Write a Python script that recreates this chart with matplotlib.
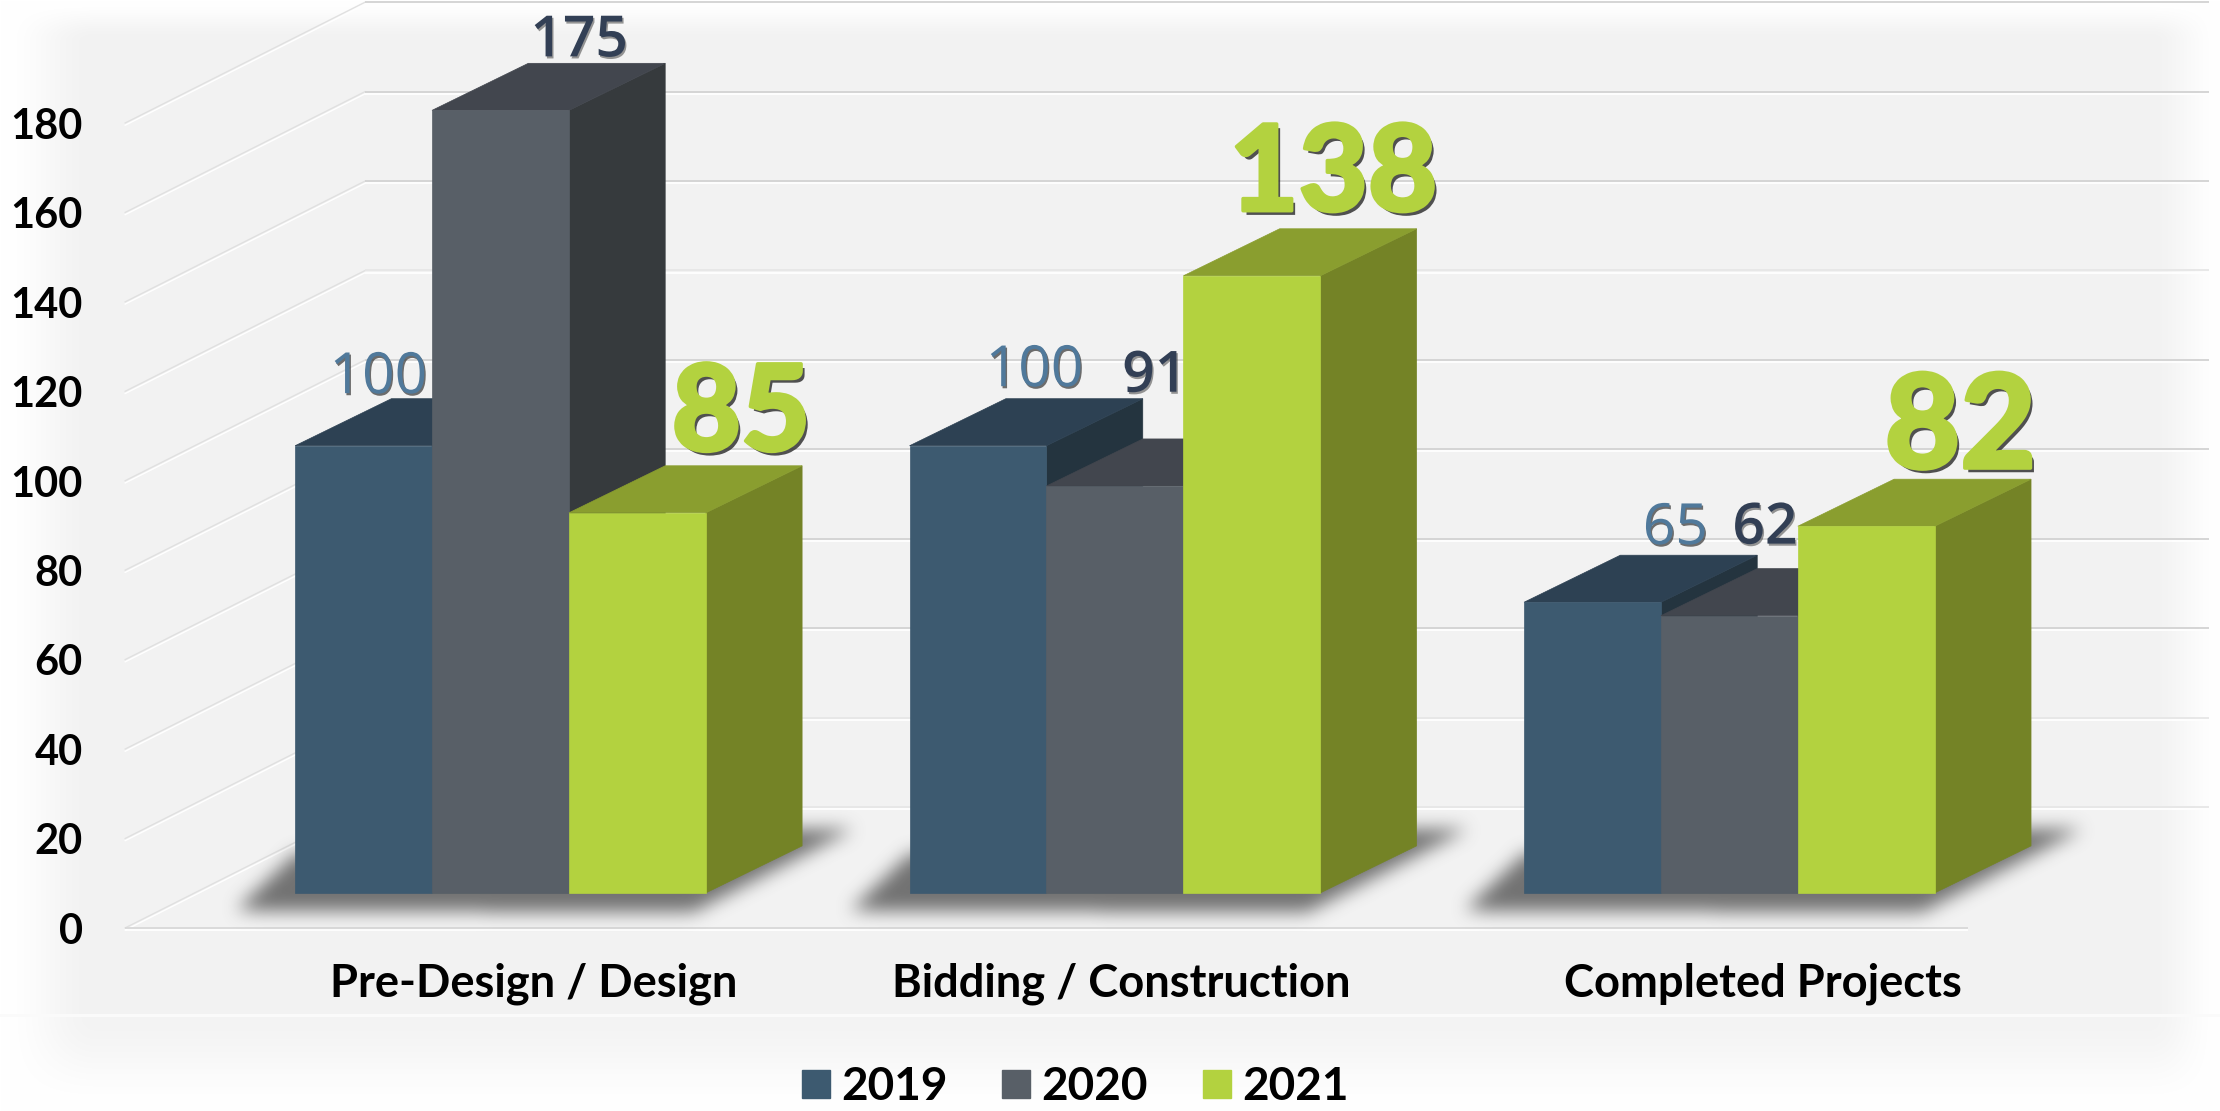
import matplotlib
matplotlib.use("Agg")
import matplotlib.pyplot as plt
import matplotlib.patheffects as pe
from matplotlib.lines import Line2D
from matplotlib.path import Path
import numpy as np

# data
categories = ["Pre-Design / Design", "Bidding / Construction", "Completed Projects"]
years = ["2019", "2020", "2021"]
vals_2019 = [100, 100, 65]
vals_2020 = [175, 91, 62]
vals_2021 = [85, 138, 82]
y_ticks = [0, 20, 40, 60, 80, 100, 120, 140, 160, 180]

W, H = 2220, 1111
FRONT = {"2019": "#3d5a70", "2020": "#585f67", "2021": "#b3d23f"}
TOP = {"2019": "#2d4153", "2020": "#42464e", "2021": "#8a9e2f"}
SIDE = {"2019": "#24343f", "2020": "#363a3d", "2021": "#748326"}

BAR_W = 0.2228      # one bar, in category units
GAP = 0.16
DX = 0.3917         # full depth of the floor, in category units
DY = 26.3           # depth of the bars' frame, in value units
GRID_DY = 27.1      # the wall lines rise a touch more
D0, D1 = 0.3, 0.7   # bars stand between these depths

# nudges of the value label baselines from the middle of the top face, in points
label_nudge = {
    "2019": [(-24, 4), (6, 9), (25, 8)],
    "2020": [(22, 5), (-6, 34), (-9, 18)],
    "2021": [(40, 11), (24, 13), (33, 8)],
}
green_sizes = [86, 86, 94]
cat_shift = [0.166, 0.122, 0.166]


def smooth(t):
    t = np.clip(t, 0, 1)
    return t * t * (3 - 2 * t)


def box_blur(a, r, axis):
    c = np.cumsum(a, axis=axis)
    c = np.moveaxis(c, axis, 0)
    n = c.shape[0]
    hi = np.minimum(np.arange(n) + r, n - 1)
    lo = np.arange(n) - r - 1
    out = c[hi].copy()
    ok = lo >= 0
    out[ok] -= c[lo[ok]]
    return np.moveaxis(out / (2 * r + 1), 0, axis)


fig = plt.figure(figsize=(W / 100, H / 100), dpi=100, facecolor="white")

# page background: light grey panel fading out to white at the edges
xx, yy = np.meshgrid(np.arange(W), np.arange(H))
fade = smooth(xx / 95) * smooth((W - xx) / 70) * smooth(yy / 40)
fade = fade * np.where(yy < 1014, 1.0, 0.9 * smooth((H - yy) / 95))
bg = 255 - 13 * fade
bg[1014:1017] = 250
fig.figimage(np.dstack([bg, bg, bg]).astype(np.uint8), 0, 0, origin="upper", zorder=-5)

ax = fig.add_axes([88 / 1568, 1 - 655 / 784, (1390 - 88) / 1568, (655 - 87) / 784])
ax.patch.set_visible(False)
ax.set_xlim(0, 3)
ax.set_ylim(0, 180)
for s in ax.spines.values():
    s.set_visible(False)


def emboss(xs, ys, col="#d2d2d2", lw=1.3):
    ln = ax.plot(xs, ys, color=col, lw=lw, zorder=0.5, clip_on=False, solid_capstyle="butt")[0]
    ln.set_path_effects([pe.SimpleLineShadow(offset=(0, -1.6), shadow_color="white", alpha=1), pe.Normal()])


for v in y_ticks:
    emboss([0, DX], [v, v + GRID_DY], "#e0e0e0", 1.0)
    emboss([DX, 3 + DX], [v + GRID_DY, v + GRID_DY], "#d2d2d2" if v not in (0, 20, 120) else "#e6e6e6")
emboss([0, 3], [0, 0], "#d8d8d8")

# blurred shadows below each group of bars
shadow = np.zeros((H, W))
grid = np.column_stack([xx.ravel(), (H - yy).ravel()])
for i in range(3):
    x0 = i + GAP + D0 * DX
    x1 = x0 + 3 * BAR_W
    f0 = ax.transData.transform((x0, D0 * DY))
    f1 = ax.transData.transform((x1, D0 * DY))
    b1 = ax.transData.transform((x1 + (D1 - D0) * DX, D1 * DY))
    poly = [f0 + (-60, -17), f1 + (-14, -19), b1 + (50, 17), b1 + (-20, 17), f0 + (0, 40)]
    shadow += Path(poly).contains_points(grid).reshape(H, W)
for _ in range(3):
    shadow = box_blur(shadow, 8, 0)
    shadow = box_blur(shadow, 8, 1)
rgba = np.zeros((H, W, 4))
rgba[..., :3] = 0.36
rgba[..., 3] = np.clip(shadow, 0, 1) * 0.85
inv = ax.transData.inverted()
(ex0, ey0), (ex1, ey1) = inv.transform((0, 0)), inv.transform((W, H))
ax.imshow(rgba, extent=(ex0, ex1, ey0, ey1), aspect="auto", zorder=1, clip_on=False, interpolation="nearest")
ax.set_xlim(0, 3)
ax.set_ylim(0, 180)


def cuboid(x0, h, year, z):
    x1 = x0 + BAR_W
    a0, a1 = D0 * DX, D1 * DX
    b0, b1 = D0 * DY, D1 * DY
    opts = dict(clip_on=False, zorder=z, lw=0.5)
    ax.fill([x1 + a0, x1 + a1, x1 + a1, x1 + a0], [b0, b1, h + b1, h + b0],
            color=SIDE[year], **opts)
    ax.fill([x0 + a0, x1 + a0, x1 + a1, x0 + a1], [h + b0, h + b0, h + b1, h + b1],
            color=TOP[year], **opts)
    ax.fill([x0 + a0, x1 + a0, x1 + a0, x0 + a0], [b0, b0, h + b0, h + b0],
            color=FRONT[year], **opts)


series = [vals_2019, vals_2020, vals_2021]
for i in range(3):
    for j, year in enumerate(years):
        cuboid(i + GAP + j * BAR_W, series[j][i], year, 2 + i + j * 0.1)

# value labels
label_style = {
    "2019": dict(fontsize=41, color="#50799b", family="Open Sans"),
    "2020": dict(fontsize=41, color="#323f55", family="Open Sans", fontweight="semibold"),
    "2021": dict(color="#b3d23f", family="Lato", fontweight="black"),
}
shadow_fx = {
    "2019": [pe.SimplePatchShadow(offset=(1, -1.5), shadow_rgbFace="#333333", alpha=0.7), pe.Normal()],
    "2020": [pe.SimplePatchShadow(offset=(1, -1.5), shadow_rgbFace="#333333", alpha=0.5), pe.Normal()],
    "2021": [pe.SimplePatchShadow(offset=(2.5, -3), shadow_rgbFace="#333333", alpha=0.85),
             pe.withStroke(linewidth=2.5, foreground="#b3d23f")],
}
for i in range(3):
    for j, year in enumerate(years):
        xc = i + GAP + (j + 0.5) * BAR_W + 0.5 * DX
        yc = series[j][i] + D1 * DY
        style = dict(label_style[year])
        if year == "2021":
            style["fontsize"] = green_sizes[i]
        ax.annotate(str(series[j][i]), (xc, yc), xytext=label_nudge[year][i], textcoords="offset points",
                    ha="center", va="baseline", zorder=8, annotation_clip=False,
                    path_effects=shadow_fx[year], **style)

# axis labels
ax.set_yticks(y_ticks)
ax.set_yticklabels([str(v) for v in y_ticks], fontsize=30, fontweight="bold", family="Lato", color="black")
ax.set_xticks([i + 0.5 + cat_shift[i] for i in range(3)])
ax.set_xticklabels(categories, fontsize=32.6, fontweight="bold", family="Lato", color="black")
ax.tick_params(axis="y", length=0, pad=30)
ax.tick_params(axis="x", length=0, pad=25)

handles = [Line2D([], [], marker="s", ls="none", ms=20, color=FRONT[y]) for y in years]
fig.legend(handles, years, loc="center", bbox_to_anchor=(0.4844, 0.0215), ncol=3, frameon=False,
           prop=dict(family="Lato", weight="bold", size=33), handlelength=0.6, handletextpad=0.25,
           columnspacing=1.2, borderpad=0, borderaxespad=0)

fig.savefig("out.png", dpi=100)
